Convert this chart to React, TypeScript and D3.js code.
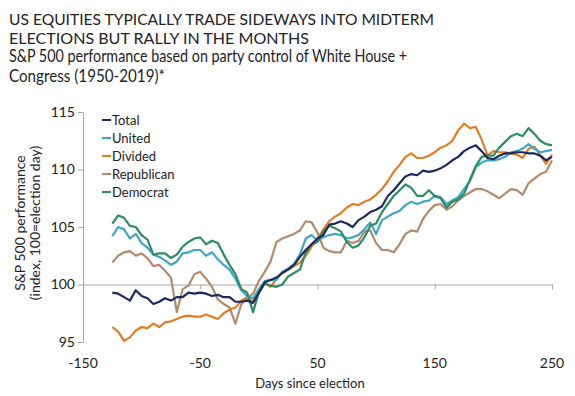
import React, { useEffect, useRef } from 'react';
import * as d3 from 'd3';

const days = d3.range(-125, 251, 5);

const total = [
  99.3, 99.2, 98.9, 98.6, 99.5, 99.0, 98.8, 98.3, 98.5, 98.8, 98.6, 98.9, 98.9, 99.3, 99.2, 99.3,
  99.2, 99.0, 99.1, 98.9, 98.9, 98.5, 98.5, 98.6, 98.4, 99.3, 100.2, 100.4, 100.6, 101.0, 101.3, 101.7,
  102.4, 103.0, 103.5, 104.0, 104.3, 105.2, 105.3, 105.5, 105.3, 105.0, 105.6, 105.9, 106.3, 106.5, 106.8, 107.7,
  108.2, 108.8, 109.4, 109.6, 109.5, 109.9, 109.8, 109.9, 110.1, 110.4, 110.8, 111.1, 111.6, 111.9, 112.1, 111.6,
  111.0, 110.9, 111.2, 111.4, 111.4, 111.5, 111.5, 111.4, 111.4, 111.2, 110.8, 111.1,
];

const united = [
  104.2, 105.0, 104.8, 104.0, 104.4, 103.6, 103.2, 102.6, 102.4, 102.1, 101.7, 102.0, 102.7, 102.8, 103.0, 103.0,
  102.5, 102.8, 102.2, 101.7, 101.3, 100.5, 99.5, 99.0, 98.8, 99.6, 100.3, 100.4, 100.4, 101.1, 101.4, 101.8,
  102.6, 104.0, 104.3, 103.8, 104.1, 104.3, 104.4, 104.3, 104.0, 104.1, 104.3, 104.8, 105.4, 104.4, 105.6, 105.9,
  106.2, 106.4, 106.9, 107.2, 107.0, 107.2, 107.3, 107.7, 107.6, 107.0, 107.3, 107.6, 108.3, 109.0, 110.2, 110.6,
  110.8, 110.8, 110.9, 111.1, 111.5, 111.6, 111.8, 112.2, 111.8, 111.5, 111.6, 111.7,
];

const divided = [
  96.3, 95.9, 95.1, 95.4, 96.0, 96.3, 96.2, 96.6, 96.3, 96.7, 96.8, 97.0, 97.2, 97.3, 97.2, 97.2,
  97.4, 97.2, 97.0, 97.5, 97.8, 98.0, 98.6, 98.9, 98.5, 99.3, 100.1, 99.8, 100.5, 101.1, 101.3, 101.6,
  101.9, 102.5, 103.3, 104.0, 104.8, 105.5, 105.9, 106.2, 106.7, 107.0, 106.9, 107.2, 107.4, 107.8, 108.3, 109.0,
  109.8, 110.4, 111.1, 111.4, 111.0, 111.0, 111.2, 111.5, 111.9, 112.1, 112.5, 113.4, 114.0, 113.6, 113.7, 112.6,
  111.2, 111.6, 111.5, 111.5, 111.4, 111.3, 111.0, 111.8, 112.0, 111.2, 110.5, 111.3,
];

const republican = [
  101.9, 102.5, 102.8, 102.9, 102.5, 102.7, 102.3, 101.6, 101.7, 101.2, 100.6, 97.6, 99.6, 99.9, 100.9, 101.1,
  100.5, 99.8, 98.7, 98.3, 98.0, 96.6, 98.3, 98.8, 99.2, 100.3, 101.1, 102.0, 103.7, 104.0, 104.2, 104.4,
  104.7, 105.5, 105.4, 104.5, 103.2, 102.9, 102.8, 102.8, 103.8, 103.6, 103.8, 104.6, 104.7, 103.6, 103.0, 103.0,
  102.8, 103.5, 104.4, 104.7, 104.6, 105.7, 106.4, 106.9, 107.0, 106.5, 106.8, 107.3, 107.7, 108.0, 108.3, 108.3,
  108.1, 107.8, 107.5, 107.9, 108.3, 108.2, 107.8, 108.8, 109.2, 109.6, 109.8, 110.8,
];

const democrat = [
  105.3, 106.0, 105.8, 105.1, 105.0, 104.3, 103.9, 102.6, 102.7, 102.7, 102.3, 102.6, 103.3, 103.7, 104.0, 104.1,
  103.5, 103.8, 103.6, 102.6, 101.7, 100.9, 99.6, 99.3, 97.6, 99.3, 100.1, 99.9, 99.8, 100.0, 100.7, 101.0,
  101.3, 102.8, 103.5, 103.7, 104.6, 105.1, 104.9, 104.6, 103.7, 103.2, 103.4, 104.1, 105.1, 105.3, 106.3, 107.0,
  107.7, 108.2, 108.7, 108.4, 107.7, 107.7, 108.2, 107.7, 107.5, 106.7, 107.2, 107.4, 107.9, 109.1, 110.3, 111.1,
  111.2, 111.2, 111.9, 112.4, 112.9, 113.1, 112.9, 113.6, 113.1, 112.5, 112.2, 112.1,
];

const seriesNames = ['Total', 'United', 'Divided', 'Republican', 'Democrat'];
const seriesValues = [total, united, divided, republican, democrat];
const seriesColors = ['#1b2a5c', '#41a6c6', '#e47d22', '#b38b6c', '#2b8c65'];
const drawOrder = [3, 2, 1, 4, 0];

const xTicks = [-150, -50, 50, 150, 250];
const yTicks = [95, 100, 105, 110, 115];

const titleLines = [
  'US EQUITIES TYPICALLY TRADE SIDEWAYS INTO MIDTERM',
  'ELECTIONS BUT RALLY IN THE MONTHS',
  'S&P 500 performance based on party control of White House +',
  'Congress (1950-2019)*',
];

export default function App() {
  const svgRef = useRef<SVGSVGElement>(null);

  useEffect(() => {
    if (!svgRef.current) return;
    const svg = d3.select(svgRef.current);
    svg.selectAll('*').remove();

    const font = 'Lato, "Open Sans", sans-serif';
    const textColor = '#222';
    const axisColor = '#a6a6a6';

    const x = d3.scaleLinear().domain([-150, 250]).range([83, 552]);
    const y = d3.scaleLinear().domain([95, 115]).range([342, 112]);

    // Title
    const titleY = [25, 43.5, 62, 81.5];
    const titleW = [425, 300, 398, 156];
    svg.append('g')
      .selectAll('text')
      .data(titleLines)
      .join('text')
      .attr('x', 9)
      .attr('y', (_d: string, i: number) => titleY[i])
      .attr('textLength', (_d: string, i: number) => titleW[i])
      .attr('lengthAdjust', 'spacingAndGlyphs')
      .style('font-family', font)
      .style('font-size', (_d: string, i: number) => (i < 2 ? '16px' : '17px'))
      .attr('fill', textColor)
      .text((d: string) => d);

    // Y axis
    const yAxis = svg.append('g')
      .attr('transform', `translate(${x(-150)},0)`)
      .call(d3.axisLeft(y).tickValues(yTicks).tickSize(5).tickPadding(3).tickSizeOuter(0));
    yAxis.select('.domain').attr('stroke', axisColor);
    yAxis.selectAll('.tick line').attr('stroke', axisColor);
    yAxis.selectAll('.tick text')
      .style('font-family', font)
      .style('font-size', '14px')
      .attr('fill', textColor);

    // X axis crossing at 100
    const xAxis = svg.append('g')
      .attr('transform', `translate(0,${y(100)})`)
      .call(d3.axisBottom(x).tickValues(xTicks).tickSize(5).tickSizeOuter(0).tickFormat(() => ''));
    xAxis.select('.domain').attr('stroke', axisColor);
    xAxis.selectAll('.tick line').attr('stroke', axisColor);

    // X tick labels at the bottom
    svg.append('g')
      .selectAll('text')
      .data(xTicks)
      .join('text')
      .attr('x', (d: number) => x(d))
      .attr('y', 368)
      .attr('text-anchor', 'middle')
      .style('font-family', font)
      .style('font-size', '14px')
      .attr('fill', textColor)
      .text((d: number) => d);

    // Axis titles
    svg.append('text')
      .attr('x', 310)
      .attr('y', 388)
      .attr('text-anchor', 'middle')
      .style('font-family', font)
      .style('font-size', '13px')
      .attr('fill', textColor)
      .text('Days since election');

    const yTitle = svg.append('text')
      .attr('transform', 'translate(0,223) rotate(-90)')
      .attr('text-anchor', 'middle')
      .style('font-family', font)
      .style('font-size', '14px')
      .attr('fill', textColor);
    yTitle.append('tspan').attr('x', 0).attr('y', 25).text('S&P 500 performance');
    yTitle.append('tspan').attr('x', 0).attr('y', 40).text('(index, 100=election day)');

    // Lines
    const line = d3.line<number>()
      .x((_d: number, i: number) => x(days[i]))
      .y((d: number) => y(d));

    drawOrder.forEach((s) => {
      svg.append('path')
        .datum(seriesValues[s])
        .attr('fill', 'none')
        .attr('stroke', seriesColors[s])
        .attr('stroke-width', 2.2)
        .attr('stroke-linejoin', 'round')
        .attr('d', line);
    });

    // Legend
    const legend = svg.append('g').attr('transform', 'translate(102,120)');
    seriesNames.forEach((name, i) => {
      const row = legend.append('g').attr('transform', `translate(0,${i * 18})`);
      row.append('line')
        .attr('x1', 0)
        .attr('x2', 9)
        .attr('stroke', seriesColors[i])
        .attr('stroke-width', 2);
      row.append('text')
        .attr('x', 10)
        .attr('y', 5)
        .style('font-family', font)
        .style('font-size', '13px')
        .attr('fill', textColor)
        .text(name);
    });
  }, []);

  return (
    <svg
      ref={svgRef}
      width="575"
      height="396"
      style={{ position: 'absolute', left: 0, top: 0, background: '#fff' }}
    />
  );
}
